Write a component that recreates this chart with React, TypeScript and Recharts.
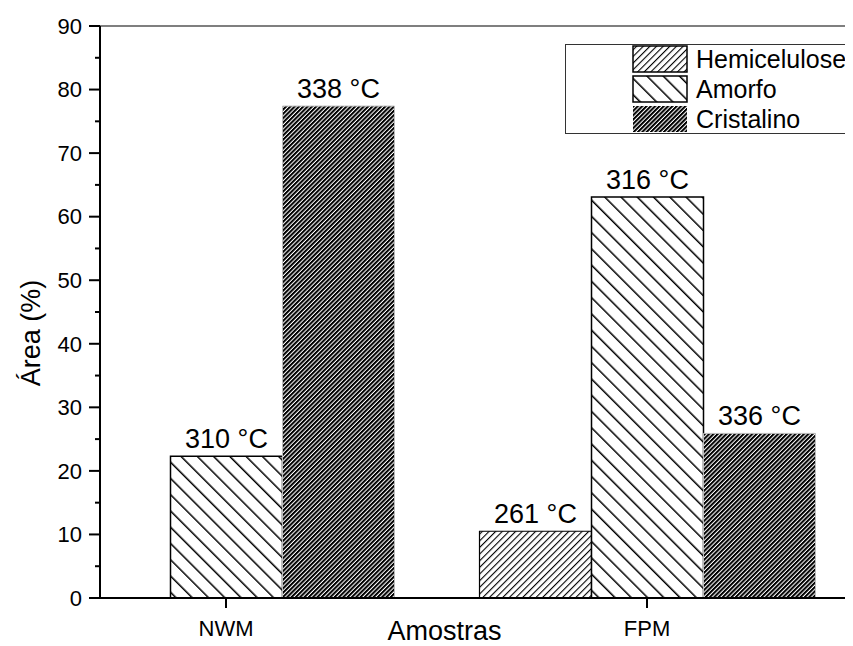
import React from 'react';
import { BarChart, Bar, XAxis, YAxis, LabelList, Label, Legend, ReferenceLine } from 'recharts';

const categories = ['NWM', 'FPM'];
const hemicelulose = [null, 10.5];
const amorfo = [22.3, 63.1];
const cristalino = [77.4, 25.9];
const hemiTemp = [null, '261 °C'];
const amorfoTemp = ['310 °C', '316 °C'];
const cristTemp = ['338 °C', '336 °C'];
const yMajorTicks = [0, 10, 20, 30, 40, 50, 60, 70, 80, 90];
const yMinorTicks = [5, 15, 25, 35, 45, 55, 65, 75, 85];
const seriesNames = ['Hemicelulose', 'Amorfo', 'Cristalino'];

const FONT = '"Liberation Sans", Arial, Helvetica, sans-serif';

const data = categories.map((c, i) => ({
  name: c,
  hemicelulose: hemicelulose[i],
  amorfo: amorfo[i],
  cristalino: cristalino[i],
  hemiT: hemiTemp[i],
  amorfoT: amorfoTemp[i],
  cristT: cristTemp[i],
}));

const series = [
  { key: 'hemicelulose', name: seriesNames[0], lab: 'hemiT', fill: 'url(#pHemi)', stroke: '#000', sw: 1.2, legStroke: '#000' },
  { key: 'amorfo', name: seriesNames[1], lab: 'amorfoT', fill: 'url(#pAmorfo)', stroke: '#000', sw: 1.5, legStroke: '#000' },
  { key: 'cristalino', name: seriesNames[2], lab: 'cristT', fill: 'url(#pCrist)', stroke: '#bbb', sw: 1, legStroke: 'none' },
];

const allTicks = [...yMajorTicks, ...yMinorTicks].sort((a, b) => a - b);

const YTick = (props: any) => {
  const { x, y, payload } = props;
  const major = payload.value % 10 === 0;
  return (
    <g>
      <line x1={x - (major ? 11 : 5)} x2={x} y1={y} y2={y} stroke="#000" strokeWidth={2} />
      {major && (
        <text x={x - 18} y={y} dy="0.355em" textAnchor="end" fontSize={22} fill="#000" fontFamily={FONT}>
          {payload.value}
        </text>
      )}
    </g>
  );
};

const renderLegend = () => (
  <svg width={282} height={90} style={{ display: 'block' }}>
    <rect x={0.5} y={0.5} width={281} height={89} fill="#fff" stroke="#333" strokeWidth={1} />
    {series.map((s, i) => (
      <g key={s.key}>
        <rect x={68} y={2 + i * 30} width={54} height={26} fill={s.fill} stroke={s.legStroke} strokeWidth={1.5} />
        <text x={131} y={15 + i * 30} dy="0.355em" fontSize={25} fill="#000" fontFamily={FONT}>
          {s.name}
        </text>
      </g>
    ))}
  </svg>
);

export default function App() {
  return (
    <div style={{ width: 845, height: 638, overflow: 'hidden', position: 'relative', fontFamily: FONT }}>
      <BarChart
        width={845}
        height={638}
        data={data}
        margin={{ top: 18, right: 0, bottom: 0, left: 0 }}
        barSize={112}
        barGap={0}
        style={{ fontFamily: FONT }}
      >
        <defs>
          <pattern id="pHemi" patternUnits="userSpaceOnUse" width={4.7} height={4.7} patternTransform="rotate(45)">
            <rect width={4.7} height={4.7} fill="#fff" />
            <rect width={1.1} height={4.7} fill="#000" />
          </pattern>
          <pattern id="pAmorfo" patternUnits="userSpaceOnUse" width={11.5} height={11.5} patternTransform="rotate(-45)">
            <rect width={11.5} height={11.5} fill="#fff" />
            <rect width={1.5} height={11.5} fill="#000" />
          </pattern>
          <pattern id="pCrist" patternUnits="userSpaceOnUse" width={3.05} height={3.05} patternTransform="rotate(45)">
            <rect width={3.05} height={3.05} fill="#fff" />
            <rect width={2.0} height={3.05} fill="#000" />
          </pattern>
        </defs>
        <XAxis
          dataKey="name"
          height={48}
          padding={{ left: -84.5, right: -4.5 }}
          axisLine={{ stroke: '#000', strokeWidth: 2 }}
          tickLine={{ stroke: '#000', strokeWidth: 2 }}
          tickSize={10}
          tickMargin={12}
          tick={{ fontSize: 22, fill: '#000', fontFamily: FONT }}
        >
          <Label
            content={(p: any) => {
              const vb = p.viewBox;
              return (
                <text x={vb.x + vb.width / 2 - 32} y={vb.y + 42} textAnchor="middle" fontSize={27} fill="#000" fontFamily={FONT}>
                  Amostras
                </text>
              );
            }}
          />
        </XAxis>
        <YAxis
          type="number"
          width={92}
          domain={[0, 90]}
          ticks={allTicks}
          interval={0}
          axisLine={{ stroke: '#000', strokeWidth: 2 }}
          tickLine={false}
          tickSize={0}
          tickMargin={0}
          tick={<YTick />}
        >
          <Label
            content={(p: any) => {
              const vb = p.viewBox;
              const cx = 22;
              const cy = vb.y + vb.height / 2 + 21;
              return (
                <text x={cx} y={cy} dy="0.355em" textAnchor="middle" fontSize={27} fill="#000" fontFamily={FONT} transform={`rotate(-90, ${cx}, ${cy})`}>
                  Área (%)
                </text>
              );
            }}
          />
        </YAxis>
        <ReferenceLine y={90} stroke="#000" strokeWidth={1.2} />
        {series.map((s) => (
          <Bar key={s.key} dataKey={s.key} name={s.name} fill={s.fill} stroke={s.stroke} strokeWidth={s.sw} isAnimationActive={false}>
            <LabelList dataKey={s.lab} position="top" offset={8} fontSize={27} fill="#000" fontFamily={FONT} />
          </Bar>
        ))}
        <Legend
          layout="vertical"
          align="center"
          verticalAlign="middle"
          content={renderLegend}
          wrapperStyle={{ left: 557, top: 36, width: 282, height: 90 }}
        />
      </BarChart>
    </div>
  );
}
